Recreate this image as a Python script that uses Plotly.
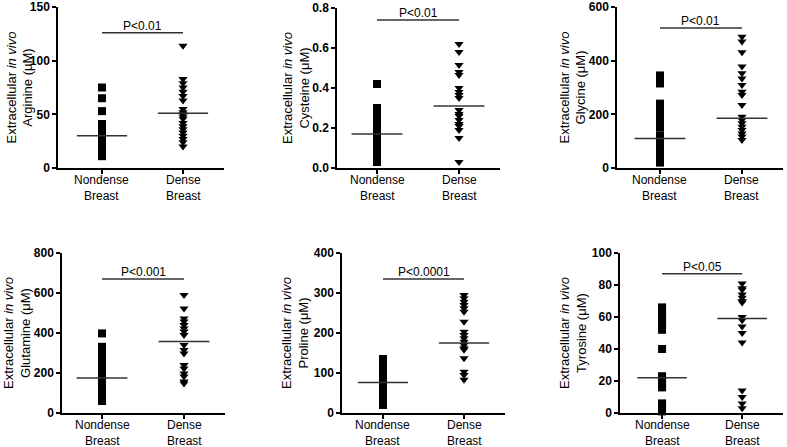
import plotly.graph_objects as go

FONT = "Arial, 'Liberation Sans', sans-serif"

groups = ["Nondense<br>Breast", "Dense<br>Breast"]
amino = ["Arginine", "Cysteine", "Glycine", "Glutamine", "Proline", "Tyrosine"]
pvals = ["P<0.01", "P<0.01", "P<0.01", "P<0.001", "P<0.0001", "P<0.05"]
bracket_y = [126, 0.74, 522, 670, 335, 87]
ymax = [150, 0.8, 600, 800, 400, 100]
ydtick = [50, 0.2, 200, 200, 100, 20]

arginine_nd = [75, 65, 53, 41, 38, 35, 32, 30, 28, 25, 22, 20, 17, 14, 11]
arginine_d = [114, 83, 79, 75, 71, 67, 63, 55, 52, 50, 48, 46, 42, 39, 36, 33, 30, 27, 24, 20]
cysteine_nd = [0.42, 0.30, 0.28, 0.26, 0.24, 0.22, 0.19, 0.17, 0.15, 0.12, 0.10, 0.08, 0.06, 0.04, 0.03]
cysteine_d = [0.62, 0.58, 0.515, 0.48, 0.465, 0.40, 0.38, 0.365, 0.35, 0.29, 0.27, 0.26, 0.24, 0.22, 0.21, 0.19, 0.15, 0.03]
glycine_nd = [345, 330, 315, 240, 225, 205, 190, 170, 150, 120, 100, 80, 60, 40, 20]
glycine_d = [489, 471, 431, 378, 353, 334, 309, 284, 272, 235, 191, 179, 167, 154, 142, 129, 117, 104]
glutamine_nd = [398, 331, 300, 281, 250, 232, 215, 200, 180, 160, 140, 120, 100, 80, 60]
glutamine_d = [590, 523, 473, 457, 440, 423, 407, 390, 340, 315, 298, 240, 223, 198, 182, 157, 148]
proline_nd = [135, 125, 115, 105, 100, 92, 85, 78, 72, 65, 58, 50, 40, 30, 20]
proline_d = [295, 287, 278, 270, 262, 253, 228, 203, 195, 187, 178, 170, 162, 158, 137, 103, 95, 83]
tyrosine_nd = [66, 64, 62, 60, 58, 56, 54, 52, 40, 23, 21, 18, 16, 6, 3, 1]
tyrosine_d = [81, 78, 77, 74, 72, 70, 69, 60, 58, 54, 50, 44, 14, 10, 6, 3]

mean_nd = [30, 0.17, 110, 175, 76, 22]
mean_d = [51, 0.31, 185, 357, 175, 59]

nondense = [arginine_nd, cysteine_nd, glycine_nd, glutamine_nd, proline_nd, tyrosine_nd]
dense = [arginine_d, cysteine_d, glycine_d, glutamine_d, proline_d, tyrosine_d]

W, H = 787, 447
# pixel layout of each panel: (x_left, x_right, y_top, y_bottom), x range
panels = [
    (58, 224, 7, 168, (-0.543, 1.506)),
    (337, 500, 8, 168, (-0.488, 1.5)),
    (617, 783, 7, 168, (-0.524, 1.5)),
    (62, 225, 253, 413, (-0.488, 1.5)),
    (342, 505, 253, 413, (-0.506, 1.506)),
    (620, 783, 253, 413, (-0.525, 1.51)),
]
title_x = [19, 296, 572, 17, 295, 573]

fig = go.Figure()
layout = dict(
    template="none",
    width=W, height=H, margin=dict(l=0, r=0, t=0, b=0, pad=0, autoexpand=False),
    paper_bgcolor="white", plot_bgcolor="white", showlegend=False,
    font=dict(family=FONT, color="black", size=12),
)
annotations = []
for i in range(6):
    xl, xr, yt, yb, xr_range = panels[i]
    sfx = "" if i == 0 else str(i + 1)
    xa, ya = "x" + sfx, "y" + sfx
    layout["xaxis" + sfx] = dict(
        domain=[xl / W, xr / W], range=list(xr_range), anchor=ya,
        tickvals=[0, 1], ticktext=["", ""], showline=True, linecolor="black",
        linewidth=1.5, ticks="outside", ticklen=4, tickwidth=1.5, tickcolor="black",
        showgrid=False, zeroline=False, fixedrange=True, automargin=False,
    )
    n_ticks = int(round(ymax[i] / ydtick[i]))
    tv = [k * ydtick[i] for k in range(n_ticks + 1)]
    if ymax[i] < 1:
        tt = ["<b>%.1f</b>" % v for v in tv]
    else:
        tt = ["<b>%d</b>" % v for v in tv]
    layout["yaxis" + sfx] = dict(
        domain=[1 - yb / H, 1 - yt / H], range=[0, ymax[i]], anchor=xa,
        tickvals=tv, ticktext=tt, showline=True, linecolor="black",
        linewidth=1.5, ticks="outside", ticklen=4, tickwidth=1.5, tickcolor="black",
        showgrid=False, zeroline=False, ticklabelstandoff=0, automargin=False,
        tickfont=dict(size=12, family=FONT, color="black"),
        fixedrange=True,
    )
    fig.add_trace(go.Scatter(
        x=[0] * len(nondense[i]), y=nondense[i], mode="markers", xaxis=xa, yaxis=ya,
        marker=dict(symbol="square", size=8, color="black"), cliponaxis=False))
    fig.add_trace(go.Scatter(
        x=[1] * len(dense[i]), y=dense[i], mode="markers", xaxis=xa, yaxis=ya,
        marker=dict(symbol="triangle-down", size=8, color="black"), cliponaxis=False))
    for xc, m in ((0, mean_nd[i]), (1, mean_d[i])):
        fig.add_trace(go.Scatter(
            x=[xc - 0.31, xc + 0.31], y=[m, m], mode="lines", xaxis=xa, yaxis=ya,
            line=dict(color="#333333", width=1.5), cliponaxis=False))
    fig.add_trace(go.Scatter(
        x=[0, 1], y=[bracket_y[i]] * 2, mode="lines", xaxis=xa, yaxis=ya,
        line=dict(color="#333333", width=1.5), cliponaxis=False))
    annotations.append(dict(
        x=0.5, y=bracket_y[i], xref=xa, yref=ya, text=pvals[i], showarrow=False,
        yanchor="middle", yshift=7, font=dict(size=12, family=FONT, color="black")))
    for gx, g in enumerate(groups):
        annotations.append(dict(
            x=gx, y=1 - (yb + 20) / H, xref=xa, yref="paper", text=g,
            showarrow=False, yanchor="middle",
            font=dict(size=12, family=FONT, color="black")))
    annotations.append(dict(
        x=title_x[i] / W, y=1 - (yt + yb) / 2 / H, xref="paper", yref="paper",
        text="Extracellular <i>in vivo</i><br>" + amino[i] + " (μM)",
        textangle=-90, showarrow=False, xanchor="center", yanchor="middle",
        font=dict(size=13, family=FONT, color="black")))

layout["annotations"] = annotations
fig.update_layout(**layout)
fig.write_html("out.html", config={"displayModeBar": False},
               post_script="document.body.style.margin='0';")
